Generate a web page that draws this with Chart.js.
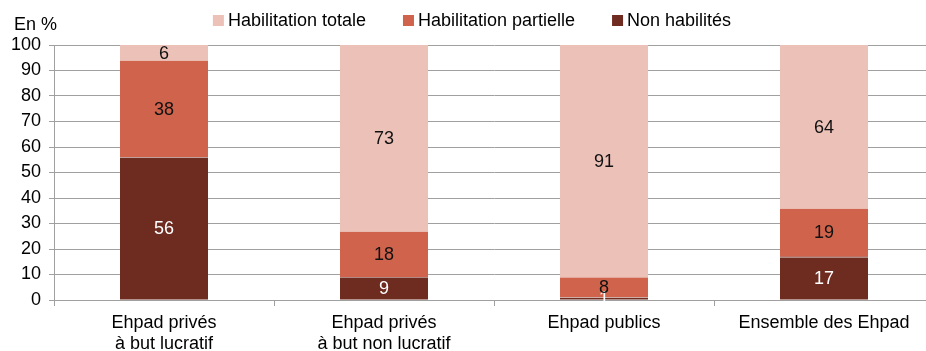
<!DOCTYPE html>
<html lang="fr">
<head>
<meta charset="utf-8">
<title>Habilitation à l'aide sociale des Ehpad</title>
<script src="https://cdn.jsdelivr.net/npm/chart.js@4.4.1/dist/chart.umd.min.js"></script>
<style>
  html, body { margin: 0; padding: 0; background: #fff; overflow: hidden; }
  #wrap { width: 946px; height: 351px; }
</style>
</head>
<body>
<div id="wrap"><canvas id="chart" width="946" height="351"></canvas></div>
<script>
// Catégories d'établissements
const categories = [
  ["Ehpad privés", "à but lucratif"],
  ["Ehpad privés", "à but non lucratif"],
  "Ehpad publics",
  "Ensemble des Ehpad"
];

// Répartition des places selon l'habilitation à l'aide sociale (en %)
const nonHabilites = [56, 9, 1, 17];
const habilitationPartielle = [38, 18, 8, 19];
const habilitationTotale = [6, 73, 91, 64];

const yTicks = [0, 10, 20, 30, 40, 50, 60, 70, 80, 90, 100];
const unitLabel = "En %";

const FONT = "'Liberation Sans', Arial, sans-serif";
const FONT_SIZE = 18;
const GRID = "#a0a0a0";

// Valeurs inscrites au centre de chaque segment
const segmentLabels = {
  id: "segmentLabels",
  afterDatasetsDraw(chart) {
    const ctx = chart.ctx;
    ctx.save();
    ctx.font = FONT_SIZE + "px " + FONT;
    ctx.textAlign = "center";
    ctx.textBaseline = "middle";
    chart.data.datasets.forEach((ds, di) => {
      const meta = chart.getDatasetMeta(di);
      meta.data.forEach((bar, i) => {
        const v = ds.data[i];
        const yc = (bar.y + bar.base) / 2;
        ctx.fillStyle = ds.labelColor;
        ctx.fillText(String(v), bar.x, yc + 1);
      });
    });
    ctx.restore();
  }
};

// Légende en haut et unité de l'axe vertical
const headerPlugin = {
  id: "header",
  afterDraw(chart) {
    const ctx = chart.ctx;
    ctx.save();
    ctx.font = FONT_SIZE + "px " + FONT;
    ctx.textBaseline = "middle";
    ctx.fillStyle = "#000";
    ctx.textAlign = "left";
    ctx.fillText(unitLabel, 14, 25);

    const items = chart.data.datasets.slice().reverse();
    const box = 11, gapText = 4, gapItem = 37;
    const widths = items.map(d => box + gapText + ctx.measureText(d.label).width);
    const total = widths.reduce((a, b) => a + b, 0) + gapItem * (items.length - 1);
    let x = 472 - total / 2;
    items.forEach((d, k) => {
      ctx.fillStyle = d.backgroundColor;
      ctx.fillRect(x, 15, box, box);
      ctx.fillStyle = "#000";
      ctx.fillText(d.label, x + box + gapText, 21);
      x += widths[k] + gapItem;
    });
    ctx.restore();
  }
};

// Fin liseré clair entre segments empilés
const segmentSeparators = {
  id: "segmentSeparators",
  afterDatasetsDraw(chart) {
    const ctx = chart.ctx;
    ctx.save();
    ctx.strokeStyle = "rgba(255,255,255,0.45)";
    ctx.lineWidth = 1;
    chart.data.datasets.forEach((ds, di) => {
      if (di === 0) return;
      const meta = chart.getDatasetMeta(di);
      meta.data.forEach(bar => {
        const half = bar.width / 2;
        const y = Math.round(bar.base) + 0.5;
        ctx.beginPath();
        ctx.moveTo(bar.x - half, y);
        ctx.lineTo(bar.x + half, y);
        ctx.stroke();
      });
    });
    ctx.restore();
  }
};

new Chart(document.getElementById("chart"), {
  type: "bar",
  data: {
    labels: categories,
    datasets: [
      { label: "Non habilités", data: nonHabilites, backgroundColor: "#6e2b1f", labelColor: "#ffffff" },
      { label: "Habilitation partielle", data: habilitationPartielle, backgroundColor: "#d0634b", labelColor: "#111111" },
      { label: "Habilitation totale", data: habilitationTotale, backgroundColor: "#ecc1b8", labelColor: "#111111" }
    ]
  },
  options: {
    responsive: false,
    animation: false,
    devicePixelRatio: 1,
    layout: { padding: { top: 45, right: 12, bottom: 0, left: 0 } },
    datasets: {
      bar: { categoryPercentage: 1, barPercentage: 0.4, borderWidth: 0 }
    },
    plugins: {
      legend: { display: false },
      tooltip: { enabled: false }
    },
    scales: {
      x: {
        stacked: true,
        offset: true,
        grid: { display: true, drawOnChartArea: false, color: GRID, tickLength: 6, offset: true },
        border: { display: true, color: GRID, width: 1 },
        ticks: {
          color: "#000",
          font: { family: FONT, size: FONT_SIZE, lineHeight: 1.15 },
          padding: 7,
          maxRotation: 0,
          autoSkip: false
        },
        afterFit(scale) { scale.height = 51; }
      },
      y: {
        stacked: true,
        min: 0,
        max: 100,
        afterBuildTicks(scale) { scale.ticks = yTicks.map(v => ({ value: v })); },
        grid: { color: GRID, tickLength: 5, lineWidth: 1 },
        border: { display: true, color: GRID, width: 1 },
        ticks: {
          color: "#000",
          font: { family: FONT, size: FONT_SIZE },
          padding: 8
        },
        afterFit(scale) { scale.width = 54; }
      }
    }
  },
  plugins: [segmentSeparators, segmentLabels, headerPlugin]
});
</script>
</body>
</html>
